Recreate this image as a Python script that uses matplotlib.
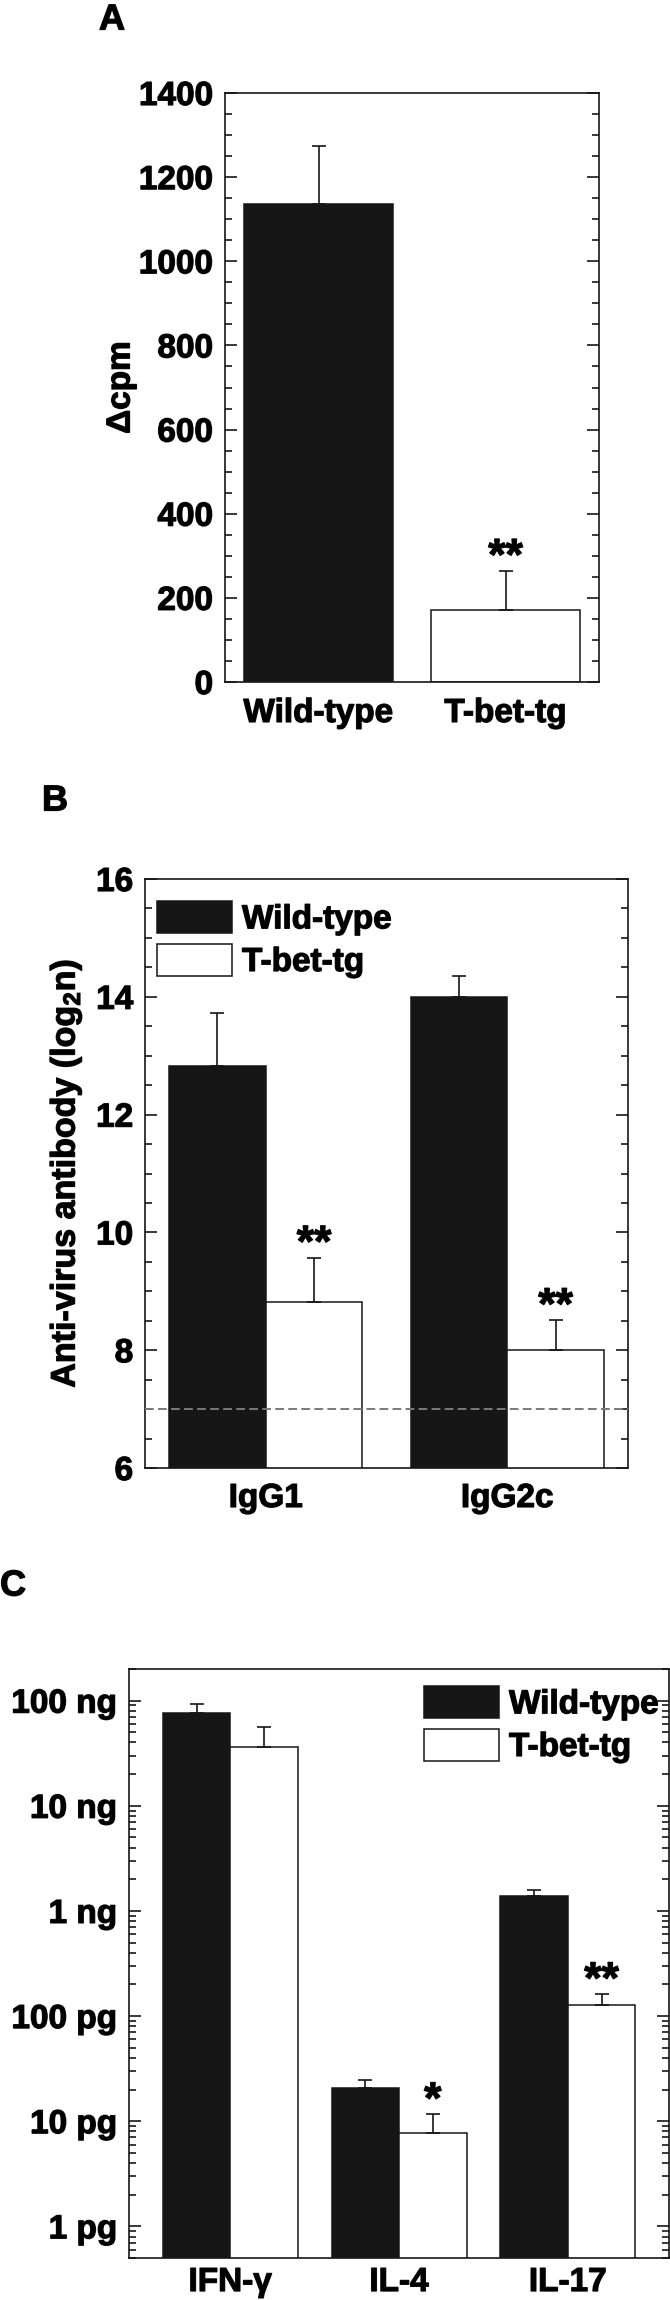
import matplotlib
matplotlib.use('Agg')
import numpy as np
import matplotlib.pyplot as plt
import matplotlib.patheffects as pe
from matplotlib.ticker import MultipleLocator, FixedLocator, LogLocator, NullFormatter

plt.rcParams['font.family'] = ['Liberation Sans', 'DejaVu Sans']
plt.rcParams['font.weight'] = 'bold'
plt.rcParams['axes.labelweight'] = 'bold'
plt.rcParams['mathtext.fontset'] = 'custom'
plt.rcParams['mathtext.rm'] = 'Liberation Sans:bold'
plt.rcParams['mathtext.bf'] = 'Liberation Sans:bold'
plt.rcParams['mathtext.default'] = 'bf'

# panel A: proliferation
groups_a = ['Wild-type', 'T-bet-tg']
cpm_mean = [1136, 171]
cpm_err = [138, 93]
stars_a = ['', '**']

# panel B: anti-virus antibody titres (log2)
isotypes = ['IgG1', 'IgG2c']
ab_wt = [12.83, 14.0]
ab_wt_err = [0.90, 0.35]
ab_tg = [8.82, 8.0]
ab_tg_err = [0.75, 0.51]
stars_b = ['**', '**']
detect_limit = 7.0

# panel C: cytokines, values in pg
cytokines = ['IFN-γ', 'IL-4', 'IL-17']
cyt_wt = [75700, 20.9, 1374]
cyt_wt_err = [17300, 3.5, 216]
cyt_tg = [36400, 7.8, 127]
cyt_tg_err = [20300, 3.8, 34]
stars_c = ['', '*', '**']
cyt_ticks = [1, 10, 100, 1e3, 1e4, 1e5]
cyt_ticklabels = ['1 pg', '10 pg', '100 pg', '1 ng', '10 ng', '100 ng']

BLK = '#161616'
W, H = 670, 2300
heavy = [pe.withStroke(linewidth=0.9, foreground=BLK)]


def px_axes(x0, y0, x1, y1):
    return fig.add_axes([x0 / W, 1 - y1 / H, (x1 - x0) / W, (y1 - y0) / H])


def style(ax, xpad):
    for s in ax.spines.values():
        s.set_linewidth(1.2)
        s.set_color(BLK)
    ax.tick_params(axis='y', which='both', direction='in', left=True, right=True,
                   width=1.2, labelsize=24, pad=8.5, color=BLK)
    ax.tick_params(axis='y', which='major', length=8.6)
    ax.tick_params(axis='y', which='minor', length=5)
    ax.tick_params(axis='x', length=0, labelsize=24, pad=xpad)


def thicken(ax):
    for t in ax.get_xticklabels() + ax.get_yticklabels() + [ax.yaxis.label]:
        t.set_path_effects(heavy)
    leg = ax.get_legend()
    if leg is not None:
        for t in leg.get_texts():
            t.set_path_effects(heavy)


def errs(ax, x, y, e):
    ax.errorbar(x, y, yerr=[np.zeros(len(e)), e], fmt='none', ecolor=BLK,
                elinewidth=1.2, capsize=4.7, capthick=1.2, zorder=4)


def stars(ax, x, y, e, labels):
    for xi, yi, ei, s in zip(x, y, e, labels):
        if s:
            ax.annotate(s, xy=(xi, yi + ei), xytext=(0, 1), textcoords='offset points',
                        ha='center', va='baseline', fontsize=32, fontweight='bold',
                        path_effects=heavy)


fig = plt.figure(figsize=(W / 100, H / 100), dpi=100)

# ---- A
ax = px_axes(225, 93, 599, 682)
xa = np.arange(len(groups_a))
ax.bar(xa, cpm_mean, width=0.8, color=[BLK, 'white'], edgecolor=BLK, linewidth=1.1, zorder=2)
errs(ax, xa, cpm_mean, cpm_err)
stars(ax, xa, cpm_mean, cpm_err, stars_a)
ax.set_xlim(-0.5, 1.5)
ax.set_ylim(0, 1400)
ax.yaxis.set_major_locator(MultipleLocator(200))
ax.yaxis.set_minor_locator(MultipleLocator(50))
ax.set_xticks(xa)
ax.set_xticklabels(groups_a)
style(ax, 11.5)
ax.set_ylabel('Δcpm', fontsize=24, fontweight='bold', va='center')
ax.yaxis.set_label_coords(-0.278, 0.5)
thicken(ax)

# ---- B
ax = px_axes(145, 879, 628, 1468)
xb = np.arange(len(isotypes))
ax.bar(xb - 0.2, ab_wt, width=0.4, color=BLK, edgecolor=BLK, linewidth=1.1,
       zorder=2, label='Wild-type')
ax.bar(xb + 0.2, ab_tg, width=0.4, color='white', edgecolor=BLK, linewidth=1.1,
       zorder=2, label='T-bet-tg')
errs(ax, xb - 0.2, ab_wt, ab_wt_err)
errs(ax, xb + 0.2, ab_tg, ab_tg_err)
stars(ax, xb + 0.2, ab_tg, ab_tg_err, stars_b)
ax.axhline(detect_limit, color='#7a7a7a', lw=1.4, dashes=(4.5, 2.2), zorder=3)
ax.set_xlim(-0.5, 1.5)
ax.set_ylim(6, 16)
ax.yaxis.set_major_locator(MultipleLocator(2))
ax.yaxis.set_minor_locator(MultipleLocator(0.5))
ax.set_xticks(xb)
ax.set_xticklabels(isotypes)
style(ax, 10.8)
ax.set_ylabel('Anti-virus antibody (log$_2$n)', fontsize=24.5, fontweight='bold', va='center')
ax.yaxis.set_label_coords(-0.163, 0.5)
ax.legend(loc='upper left', bbox_to_anchor=((157 - 145) / 483, (1468 - 901) / 589),
          frameon=False, borderpad=0, borderaxespad=0, handlelength=2.25,
          handleheight=1.1, handletextpad=0.3, labelspacing=0.25, fontsize=24)
thicken(ax)

# ---- C
ax = px_axes(129, 1669, 669, 2258)
xc = np.arange(len(cytokines))
ax.bar(xc - 0.2, cyt_wt, width=0.4, color=BLK, edgecolor=BLK, linewidth=1.1,
       zorder=2, label='Wild-type')
ax.bar(xc + 0.2, cyt_tg, width=0.4, color='white', edgecolor=BLK, linewidth=1.1,
       zorder=2, label='T-bet-tg')
errs(ax, xc - 0.2, cyt_wt, cyt_wt_err)
errs(ax, xc + 0.2, cyt_tg, cyt_tg_err)
stars(ax, xc + 0.2, cyt_tg, cyt_tg_err, stars_c)
ax.set_yscale('log')
ax.set_ylim(0.5, 2e5)
ax.set_xlim(-0.6, 2.6)
ax.yaxis.set_major_locator(FixedLocator(cyt_ticks))
ax.set_yticklabels(cyt_ticklabels)
ax.yaxis.set_minor_locator(LogLocator(base=10, subs=np.arange(2, 10)))
ax.yaxis.set_minor_formatter(NullFormatter())
ax.set_xticks(xc)
ax.set_xticklabels(cytokines)
style(ax, 6.5)
ax.legend(loc='upper left', bbox_to_anchor=((424 - 129) / 540, (2258 - 1686) / 589),
          frameon=False, borderpad=0, borderaxespad=0, handlelength=2.25,
          handleheight=1.1, handletextpad=0.3, labelspacing=0.25, fontsize=24)
thicken(ax)

# panel letters
for x, y, s in [(99, 20, 'A'), (42, 801, 'B'), (0, 1586, 'C')]:
    fig.text(x / W, 1 - y / H, s, fontsize=26, fontweight='bold', va='center',
             path_effects=heavy)

fig.savefig('out.png', dpi=100)
